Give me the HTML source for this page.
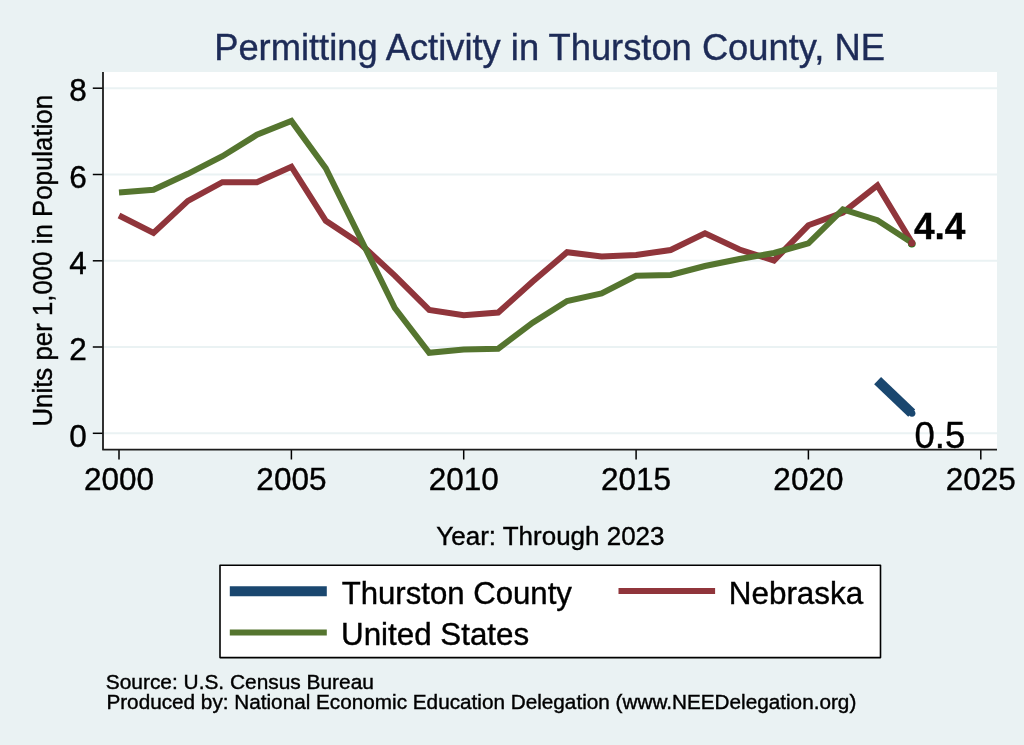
<!DOCTYPE html>
<html><head><meta charset="utf-8"><style>
html,body{margin:0;padding:0;background:#eaf2f3;overflow:hidden;}
svg{display:block;will-change:transform;font-family:"Liberation Sans",sans-serif;}
text{stroke:#000;stroke-width:0.4px;}
text.t{stroke:#1d2b57;}
</style></head><body>
<svg width="1024" height="745" viewBox="0 0 1024 745">
<rect x="0" y="0" width="1024" height="745" fill="#eaf2f3"/>
<rect x="103" y="72" width="894" height="377.7" fill="#ffffff"/>
<g stroke="#eaf2f3" stroke-width="2">
<line x1="104" y1="88.2" x2="997" y2="88.2"/>
<line x1="104" y1="174.5" x2="997" y2="174.5"/>
<line x1="104" y1="260.8" x2="997" y2="260.8"/>
<line x1="104" y1="347.0" x2="997" y2="347.0"/>
<line x1="104" y1="433.3" x2="997" y2="433.3"/>
</g>
<text x="214.2" y="60" textLength="670.7" lengthAdjust="spacingAndGlyphs" class="t" font-size="36.8" fill="#1d2b57">Permitting Activity in Thurston County, NE</text>
<g stroke="#000" stroke-width="1.5">
<line x1="92.8" y1="88.2" x2="103" y2="88.2"/>
<line x1="92.8" y1="174.5" x2="103" y2="174.5"/>
<line x1="92.8" y1="260.8" x2="103" y2="260.8"/>
<line x1="92.8" y1="347.0" x2="103" y2="347.0"/>
<line x1="92.8" y1="433.3" x2="103" y2="433.3"/>
<line x1="119.0" y1="449" x2="119.0" y2="459.5"/>
<line x1="291.4" y1="449" x2="291.4" y2="459.5"/>
<line x1="463.7" y1="449" x2="463.7" y2="459.5"/>
<line x1="636.1" y1="449" x2="636.1" y2="459.5"/>
<line x1="808.4" y1="449" x2="808.4" y2="459.5"/>
<line x1="980.8" y1="449" x2="980.8" y2="459.5"/>
</g>
<g stroke="#1c1c1c" stroke-width="1.8" fill="none" stroke-linejoin="round">
<polyline points="103,72 103,449.7 997,449.7"/>
</g>
<g font-size="31.5" fill="#000" text-anchor="end">
<text x="86.8" y="101.4">8</text>
<text x="86.8" y="187.7">6</text>
<text x="86.8" y="274.0">4</text>
<text x="86.8" y="360.2">2</text>
<text x="86.8" y="446.5">0</text>
</g>
<g font-size="31.5" fill="#000" text-anchor="middle">
<text x="119.0" y="490.3">2000</text>
<text x="291.4" y="490.3">2005</text>
<text x="463.7" y="490.3">2010</text>
<text x="636.1" y="490.3">2015</text>
<text x="808.4" y="490.3">2020</text>
<text x="980.8" y="490.3">2025</text>
</g>
<text transform="translate(51.8,426.6) rotate(-90)" textLength="331.7" lengthAdjust="spacingAndGlyphs" font-size="26.8" fill="#000">Units per 1,000 in Population</text>
<text x="436.3" y="544.8" textLength="228.2" lengthAdjust="spacingAndGlyphs" font-size="26.3" fill="#000">Year: Through 2023</text>
<g fill="none" stroke-linejoin="miter" stroke-linecap="butt">
<line x1="877.6" y1="380.6" x2="911.7" y2="413.1" stroke="#1a476f" stroke-width="10"/>
<polyline points="119.0,215.5 153.5,233.0 187.9,200.9 222.4,182.2 256.9,182.2 291.4,166.7 325.8,220.8 360.3,243.7 394.8,275.6 429.2,309.9 463.7,315.2 498.2,312.6 532.7,281.5 567.1,252.2 601.6,256.5 636.1,255.0 670.6,250.0 705.0,233.3 739.5,249.5 774.0,260.5 808.4,225.3 842.9,212.5 877.4,185.4 911.9,242.5" stroke="#90353b" stroke-width="6"/>
<polyline points="119.0,192.4 153.5,189.8 187.9,173.8 222.4,156.2 256.9,134.8 291.4,121.0 325.8,168.2 360.3,238.0 394.8,308.0 429.2,352.8 463.7,349.5 498.2,348.7 532.7,322.7 567.1,301.0 601.6,293.5 636.1,275.8 670.6,274.9 705.0,266.0 739.5,259.0 774.0,253.0 808.4,243.3 842.9,209.3 877.4,220.2 911.9,242.8" stroke="#55752f" stroke-width="6"/>
</g>
<circle cx="912" cy="413.3" r="3.4" fill="#1a476f"/>
<circle cx="911.8" cy="243.8" r="3.8" fill="#008000"/>
<circle cx="911.8" cy="243.2" r="3.6" fill="#90353b"/>
<text x="914" y="238.8" font-size="37" font-weight="bold" fill="#000">4.4</text>
<text x="914.5" y="448" font-size="36.5" fill="#000">0.5</text>
<rect x="220" y="565.2" width="660.5" height="92.4" fill="#fff" stroke="#000" stroke-width="1.6" stroke-linejoin="round"/>
<line x1="229.8" y1="591.2" x2="326.8" y2="591.2" stroke="#1a476f" stroke-width="10"/>
<line x1="618.5" y1="591" x2="715.1" y2="591" stroke="#90353b" stroke-width="6"/>
<line x1="229.8" y1="632.4" x2="326.8" y2="632.4" stroke="#55752f" stroke-width="6"/>
<g font-size="31.3" fill="#000">
<text x="341.7" y="603.8" textLength="230.2" lengthAdjust="spacingAndGlyphs">Thurston County</text>
<text x="728.8" y="603.8" textLength="134.4" lengthAdjust="spacingAndGlyphs">Nebraska</text>
<text x="341" y="644.7" textLength="188.1" lengthAdjust="spacingAndGlyphs">United States</text>
</g>
<g font-size="20.5" fill="#000">
<text x="105.8" y="688.5" textLength="268.1" lengthAdjust="spacingAndGlyphs">Source: U.S. Census Bureau</text>
<text x="106.4" y="708.8" textLength="749.9" lengthAdjust="spacingAndGlyphs">Produced by: National Economic Education Delegation (www.NEEDelegation.org)</text>
</g>
</svg>
</body></html>
